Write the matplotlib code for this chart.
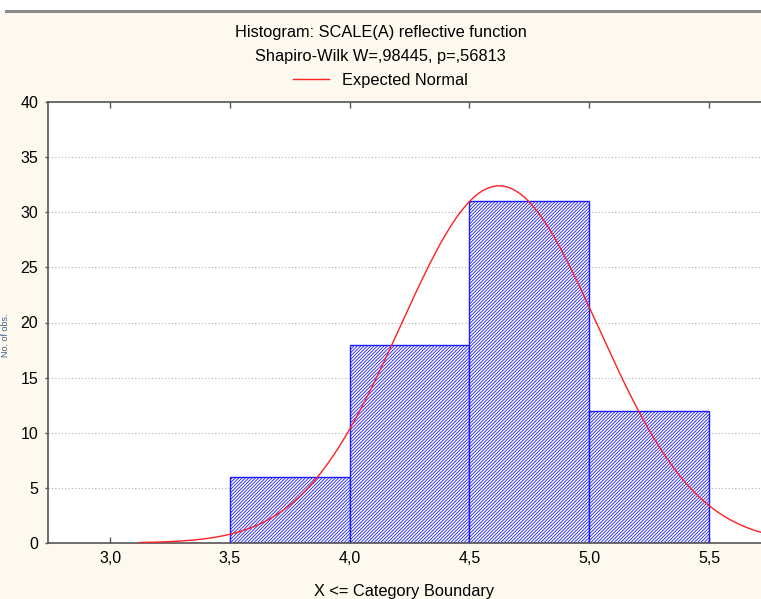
import numpy as np
import matplotlib.pyplot as plt
from matplotlib.lines import Line2D
from matplotlib.patches import Rectangle

# histogram bins (upper boundary categories) and counts
bin_edges = [3.5, 4.0, 4.5, 5.0, 5.5]
counts = [6, 18, 31, 12]

# expected normal parameters
n_obs = sum(counts)
mu = 4.624
sigma = 0.4125
curve_start = 3.125

x_ticks = [3.0, 3.5, 4.0, 4.5, 5.0, 5.5]
x_ticklabels = ["3,0", "3,5", "4,0", "4,5", "5,0", "5,5"]
y_ticks = [0, 5, 10, 15, 20, 25, 30, 35, 40]

plt.rcParams["font.family"] = ["Liberation Sans", "DejaVu Sans"]
plt.rcParams["hatch.linewidth"] = 0.6
plt.rcParams["hatch.color"] = "#5a5aff"

fig = plt.figure(figsize=(7.61, 5.99), dpi=100, facecolor="#fef9ee")

# white strip and grey rule at the very top
fig.patches.append(Rectangle((0, 1 - 10 / 599), 1, 10 / 599, transform=fig.transFigure,
                             facecolor="white", edgecolor="none", zorder=0))
fig.add_artist(Line2D([6 / 761, 1], [1 - 10.5 / 599, 1 - 10.5 / 599], transform=fig.transFigure,
                      color="#8a8a8a", lw=2.2))

ax = fig.add_axes([48 / 761, 56 / 599, 713 / 761, 441 / 599])
ax.set_facecolor("white")

widths = np.diff(bin_edges)
ax.bar(bin_edges[:-1], counts, width=widths, align="edge", facecolor="white",
       edgecolor="#1a1aff", linewidth=1.0, hatch="//////////", zorder=2)

bw = widths[0]
xs = np.linspace(curve_start, 5.9, 400)
ys = n_obs * bw / (sigma * np.sqrt(2 * np.pi)) * np.exp(-0.5 * ((xs - mu) / sigma) ** 2)
ax.plot(xs, ys, color="#ff2020", lw=1.0, zorder=3)

ax.set_xlim(2.741, 5.717)
ax.set_ylim(0, 40)
ax.set_xticks(x_ticks)
ax.set_xticklabels(x_ticklabels)
ax.set_yticks(y_ticks)
ax.yaxis.grid(True, linestyle=(0, (1, 2)), color="#b0b0b0", lw=0.8, zorder=0)
ax.set_axisbelow(True)

ax.tick_params(axis="x", direction="in", top=True, bottom=True, length=4, width=1,
               color="#555555", labelsize=11.5, pad=6)
ax.tick_params(axis="y", direction="out", length=2, width=1, color="#555555",
               labelsize=11.5, pad=5)
for side in ["left", "bottom", "top"]:
    ax.spines[side].set_color("#555555")
    ax.spines[side].set_linewidth(1.2)
ax.spines["right"].set_visible(False)

ax.set_xlabel("X <= Category Boundary", fontsize=11.8, labelpad=13)

fig.text(0.5, 1 - 33 / 599, "Histogram: SCALE(A) reflective function",
         ha="center", va="center", fontsize=11.8)
fig.text(0.5, 1 - 57 / 599, "Shapiro-Wilk W=,98445, p=,56813",
         ha="center", va="center", fontsize=11.8)
handle = Line2D([], [], color="#ff2020", lw=1.0)
fig.legend([handle], ["Expected Normal"], loc="center", bbox_to_anchor=(0.5, 1 - 80 / 599),
           frameon=False, fontsize=11.8, handlelength=2.2, handletextpad=0.8)

fig.text(6 / 761, 0.44, "No. of obs.", rotation=90, ha="center", va="center",
         fontsize=6.5, color="#3a5f8f")

fig.savefig("out.png", dpi=100, facecolor=fig.get_facecolor())
